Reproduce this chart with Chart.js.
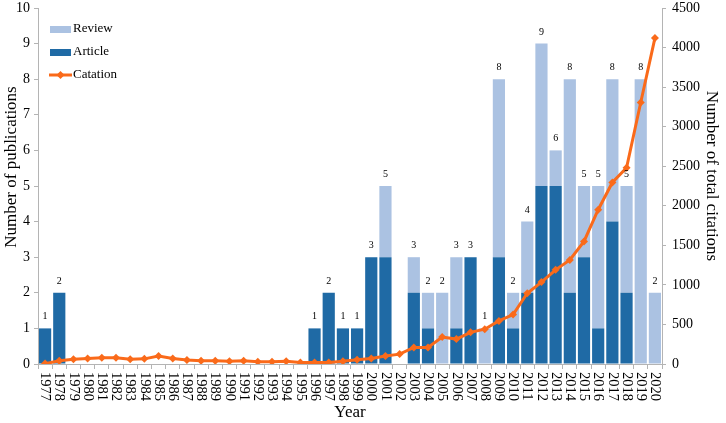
<!DOCTYPE html>
<html>
<head>
<meta charset="utf-8">
<script src="https://cdn.jsdelivr.net/npm/chart.js@4.4.1/dist/chart.umd.min.js"></script>
<style>
  body { margin: 0; background: #fff; }
  #wrap { width: 726px; height: 423px; }
</style>
</head>
<body>
<div id="wrap"><canvas id="grafico" width="726" height="423"></canvas></div>
<script>
// Publication counts and citations per year
const anos = ['1977', '1978', '1979', '1980', '1981', '1982', '1983', '1984', '1985', '1986', '1987',
    '1988', '1989', '1990', '1991', '1992', '1993', '1994', '1995', '1996', '1997', '1998', '1999',
    '2000', '2001', '2002', '2003', '2004', '2005', '2006', '2007', '2008', '2009', '2010', '2011',
    '2012', '2013', '2014', '2015', '2016', '2017', '2018', '2019', '2020'];

const artigos = [1, 2, 0, 0, 0, 0, 0, 0, 0, 0, 0, 0, 0, 0, 0, 0, 0, 0, 0,
    1, 2, 1, 1, 3, 3, 0, 2, 1, 0, 1, 3, 0, 3, 1, 2, 5, 5, 2, 3, 1, 4, 2, 0, 0];

const revisoes = [0, 0, 0, 0, 0, 0, 0, 0, 0, 0, 0, 0, 0, 0, 0, 0, 0, 0, 0,
    0, 0, 0, 0, 0, 2, 0, 1, 1, 2, 2, 0, 1, 5, 1, 2, 4, 1, 6, 2, 4, 4, 3, 8, 2];

const citacoes = [5, 40, 60, 70, 80, 80, 60, 65, 100, 70, 50, 40, 40, 35, 40, 30, 30, 35, 20,
    20, 20, 35, 55, 70, 100, 125, 210, 210, 340, 315, 400, 440, 545, 625, 895, 1035, 1190,
    1315, 1550, 1950, 2295, 2480, 3305, 4120];

const corArtigo = '#1f6aa5';
const corRevisao = '#abc2e2';
const corCitacao = '#fa6a1a';
const corEixo = '#b4b4b4';
const fonte = "'Liberation Serif', 'Times New Roman', serif";

function textoGirado(ctx, texto, x, y, angulo) {
    ctx.save();
    ctx.translate(x, y);
    ctx.rotate(angulo);
    ctx.fillText(texto, 0, 0);
    ctx.restore();
}

// totals above each stacked bar + rotated year labels + axis titles + legend
const extras = {
    id: 'extras',
    afterDatasetsDraw(chart) {
        const { ctx, scales } = chart;
        const x = scales.x, y = scales.y;
        ctx.save();
        ctx.fillStyle = '#000';
        ctx.font = '10px ' + fonte;
        ctx.textAlign = 'center';
        ctx.textBaseline = 'alphabetic';
        anos.forEach((_, i) => {
            const total = artigos[i] + revisoes[i];
            if (total > 0) {
                ctx.fillText(String(total), x.getPixelForValue(i), y.getPixelForValue(total) - 9);
            }
        });
        ctx.restore();
    },
    afterDraw(chart) {
        const { ctx, scales, chartArea } = chart;
        const x = scales.x;
        ctx.save();
        ctx.fillStyle = '#000';
        ctx.font = '14.5px ' + fonte;
        ctx.textAlign = 'left';
        ctx.textBaseline = 'middle';
        anos.forEach((ano, i) => {
            textoGirado(ctx, ano, x.getPixelForValue(i), chartArea.bottom + 8, Math.PI / 2);
        });

        // axis titles
        ctx.font = '17px ' + fonte;
        ctx.textAlign = 'center';
        ctx.textBaseline = 'middle';
        textoGirado(ctx, 'Number of publications', 12, 167, -Math.PI / 2);
        textoGirado(ctx, 'Number of total citations', 711, 176, Math.PI / 2);
        ctx.fillText('Year', (chartArea.left + chartArea.right) / 2, 413);

        // legend
        const lx = 50, ly = 29, passo = 23;
        ctx.font = '13px ' + fonte;
        ctx.fillStyle = corRevisao;
        ctx.fillRect(lx, ly - 3, 21, 7);
        ctx.fillStyle = corArtigo;
        ctx.fillRect(lx, ly + passo - 3, 21, 7);
        ctx.strokeStyle = corCitacao;
        ctx.lineWidth = 3;
        ctx.beginPath();
        ctx.moveTo(lx - 1, ly + 2 * passo);
        ctx.lineTo(lx + 22, ly + 2 * passo);
        ctx.stroke();
        ctx.fillStyle = corCitacao;
        ctx.beginPath();
        const cx = lx + 10.5, cy = ly + 2 * passo;
        ctx.moveTo(cx, cy - 4);
        ctx.lineTo(cx + 4, cy);
        ctx.lineTo(cx, cy + 4);
        ctx.lineTo(cx - 4, cy);
        ctx.closePath();
        ctx.fill();
        ctx.fillStyle = '#000';
        ctx.textAlign = 'left';
        ctx.fillText('Review', lx + 23, ly);
        ctx.fillText('Article', lx + 23, ly + passo);
        ctx.fillText('Catation', lx + 23, ly + 2 * passo);
        ctx.restore();
    }
};

const ctx = document.getElementById('grafico').getContext('2d');
new Chart(ctx, {
    type: 'bar',
    data: {
        labels: anos,
        datasets: [
            {
                type: 'line',
                label: 'Catation',
                data: citacoes,
                yAxisID: 'y1',
                borderColor: corCitacao,
                backgroundColor: corCitacao,
                borderWidth: 3,
                pointStyle: 'rectRot',
                pointRadius: 4,
                pointBorderWidth: 0,
                tension: 0,
                order: 0
            },
            {
                label: 'Article',
                data: artigos,
                backgroundColor: corArtigo,
                stack: 'pub',
                order: 1,
                barPercentage: 0.86,
                categoryPercentage: 1
            },
            {
                label: 'Review',
                data: revisoes,
                backgroundColor: corRevisao,
                stack: 'pub',
                order: 1,
                barPercentage: 0.86,
                categoryPercentage: 1
            }
        ]
    },
    options: {
        responsive: false,
        animation: false,
        layout: { padding: 0 },
        plugins: {
            legend: { display: false },
            tooltip: { enabled: false }
        },
        scales: {
            x: {
                stacked: true,
                offset: true,
                grid: { offset: true, drawOnChartArea: false, color: corEixo, tickLength: 5 },
                border: { color: corEixo },
                ticks: { display: false },
                afterFit(s) { s.height = 59; s.paddingLeft = 0; s.paddingRight = 0; }
            },
            y: {
                stacked: true,
                position: 'left',
                min: 0,
                max: 10,
                ticks: { stepSize: 1, color: '#000', font: { family: fonte, size: 14 }, padding: 4 },
                grid: { drawOnChartArea: false, color: corEixo, tickLength: 4 },
                border: { color: corEixo },
                afterFit(s) { s.width = 38; s.paddingTop = 8; s.paddingBottom = 0; }
            },
            y1: {
                position: 'right',
                min: 0,
                max: 4500,
                ticks: {
                    stepSize: 500, color: '#000', font: { family: fonte, size: 14 }, padding: 6,
                    callback: v => String(v)
                },
                grid: { drawOnChartArea: false, color: corEixo, tickLength: 4 },
                border: { color: corEixo },
                afterFit(s) { s.width = 64; s.paddingTop = 8; s.paddingBottom = 0; }
            }
        }
    },
    plugins: [extras]
});
</script>
</body>
</html>
